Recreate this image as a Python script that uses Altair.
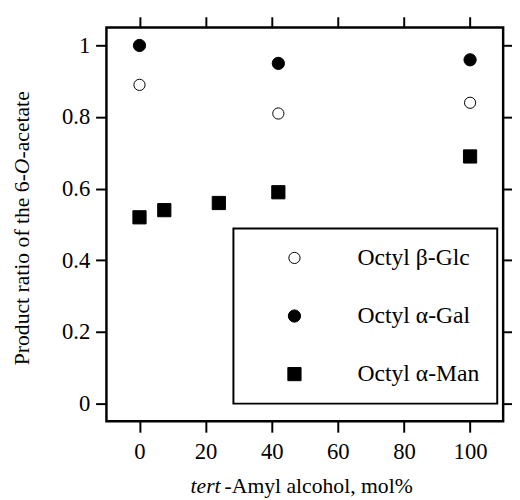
import altair as alt
import pandas as pd

# ---- data ----
series_names = ["Octyl β-Glc", "Octyl α-Gal", "Octyl α-Man"]
x_glc = [0, 42, 100]
y_glc = [0.89, 0.81, 0.84]
x_gal = [0, 42, 100]
y_gal = [1.0, 0.95, 0.96]
x_man = [0, 7.5, 24, 42, 100]
y_man = [0.52, 0.54, 0.56, 0.59, 0.69]

x_ticks = [0, 20, 40, 60, 80, 100]
y_ticks = [0, 0.2, 0.4, 0.6, 0.8, 1.0]

y_title_parts = ["Product ratio of the 6-", "O", "-acetate"]
x_title_parts = ["tert", "-Amyl alcohol, mol%"]

rows = []
for name, xs, ys in zip(series_names, [x_glc, x_gal, x_man], [y_glc, y_gal, y_man]):
    for a, b in zip(xs, ys):
        rows.append({"series": name, "x": a, "y": b})
df = pd.DataFrame(rows)

FONT = "Liberation Serif"
W, H = 403, 400

xscale = alt.Scale(domain=[-10, 110], nice=False, zero=False)
yscale = alt.Scale(domain=[-0.05, 1.05], nice=False, zero=False)

common_axis = dict(
    grid=False, domain=False, tickColor="black", tickWidth=2, tickSize=11,
    labelFont=FONT, labelFontSize=23, labelColor="black", title=None,
)

x_bottom = alt.Axis(orient="bottom", values=x_ticks, labelPadding=9, **common_axis)
y_left = alt.Axis(orient="left", values=y_ticks, format="~g", labelPadding=6, **common_axis)
x_top = alt.Axis(orient="top", values=x_ticks, labels=False, **common_axis)
y_right = alt.Axis(orient="right", values=y_ticks, labels=False, **common_axis)

legend_opts = dict(
    title=None, orient="none", legendX=129, legendY=204,
    strokeColor="black", fillColor="white",
    padding=18, symbolOffset=32, labelOffset=52, rowPadding=35,
    labelFont=FONT, labelFontSize=24, labelColor="black",
    symbolStrokeColor="black", symbolStrokeWidth=1,
)

base = alt.Chart(df)

points = base.mark_point(opacity=1, fillOpacity=1, strokeWidth=1).encode(
    x=alt.X("x:Q", scale=xscale, axis=x_bottom),
    y=alt.Y("y:Q", scale=yscale, axis=y_left),
    shape=alt.Shape("series:N", scale=alt.Scale(domain=series_names, range=["circle", "circle", "square"]),
                    legend=alt.Legend(**legend_opts)),
    fill=alt.Fill("series:N", scale=alt.Scale(domain=series_names, range=["white", "black", "black"]),
                  legend=alt.Legend(**legend_opts)),
    stroke=alt.Stroke("series:N", scale=alt.Scale(domain=series_names, range=["black", "black", "black"]),
                      legend=alt.Legend(**legend_opts)),
    size=alt.Size("series:N", scale=alt.Scale(domain=series_names, range=[130, 180, 180]),
                  legend=alt.Legend(**legend_opts)),
)

frame_axes = base.mark_point(opacity=0).encode(
    x=alt.X("x:Q", scale=xscale, axis=x_top),
    y=alt.Y("y:Q", scale=yscale, axis=y_right),
)

def txt(s, x, y, angle=0, align="left", italic=False):
    kw = dict(font=FONT, fontSize=22, angle=angle, align=align, baseline="alphabetic", color="black")
    if italic:
        kw["fontStyle"] = "italic"
    return alt.Chart(pd.DataFrame({"t": [s]})).mark_text(**kw).encode(
        text="t:N", x=alt.value(x), y=alt.value(y))

yt1 = txt(y_title_parts[0], -79, 343, angle=270)
yt2 = txt(y_title_parts[1], -79, 149, angle=270, italic=True)
yt3 = txt(y_title_parts[2], -79, 133, angle=270)
xt1 = txt(x_title_parts[0], 116, 473, align="right", italic=True)
xt2 = txt(x_title_parts[1], 120, 473)

chart = alt.layer(points, frame_axes, yt1, yt2, yt3, xt1, xt2).resolve_axis(
    x="independent", y="independent"
).properties(
    width=W, height=H,
    background="white",
    autosize=alt.AutoSizeParams(type="none"),
    padding={"left": 100, "top": 16, "right": 9, "bottom": 76},
).configure_view(
    stroke="black", strokeWidth=2.5
).configure_legend(
    strokeWidth=2
)

chart.save("out.html", embed_options={"renderer": "svg", "actions": False})
